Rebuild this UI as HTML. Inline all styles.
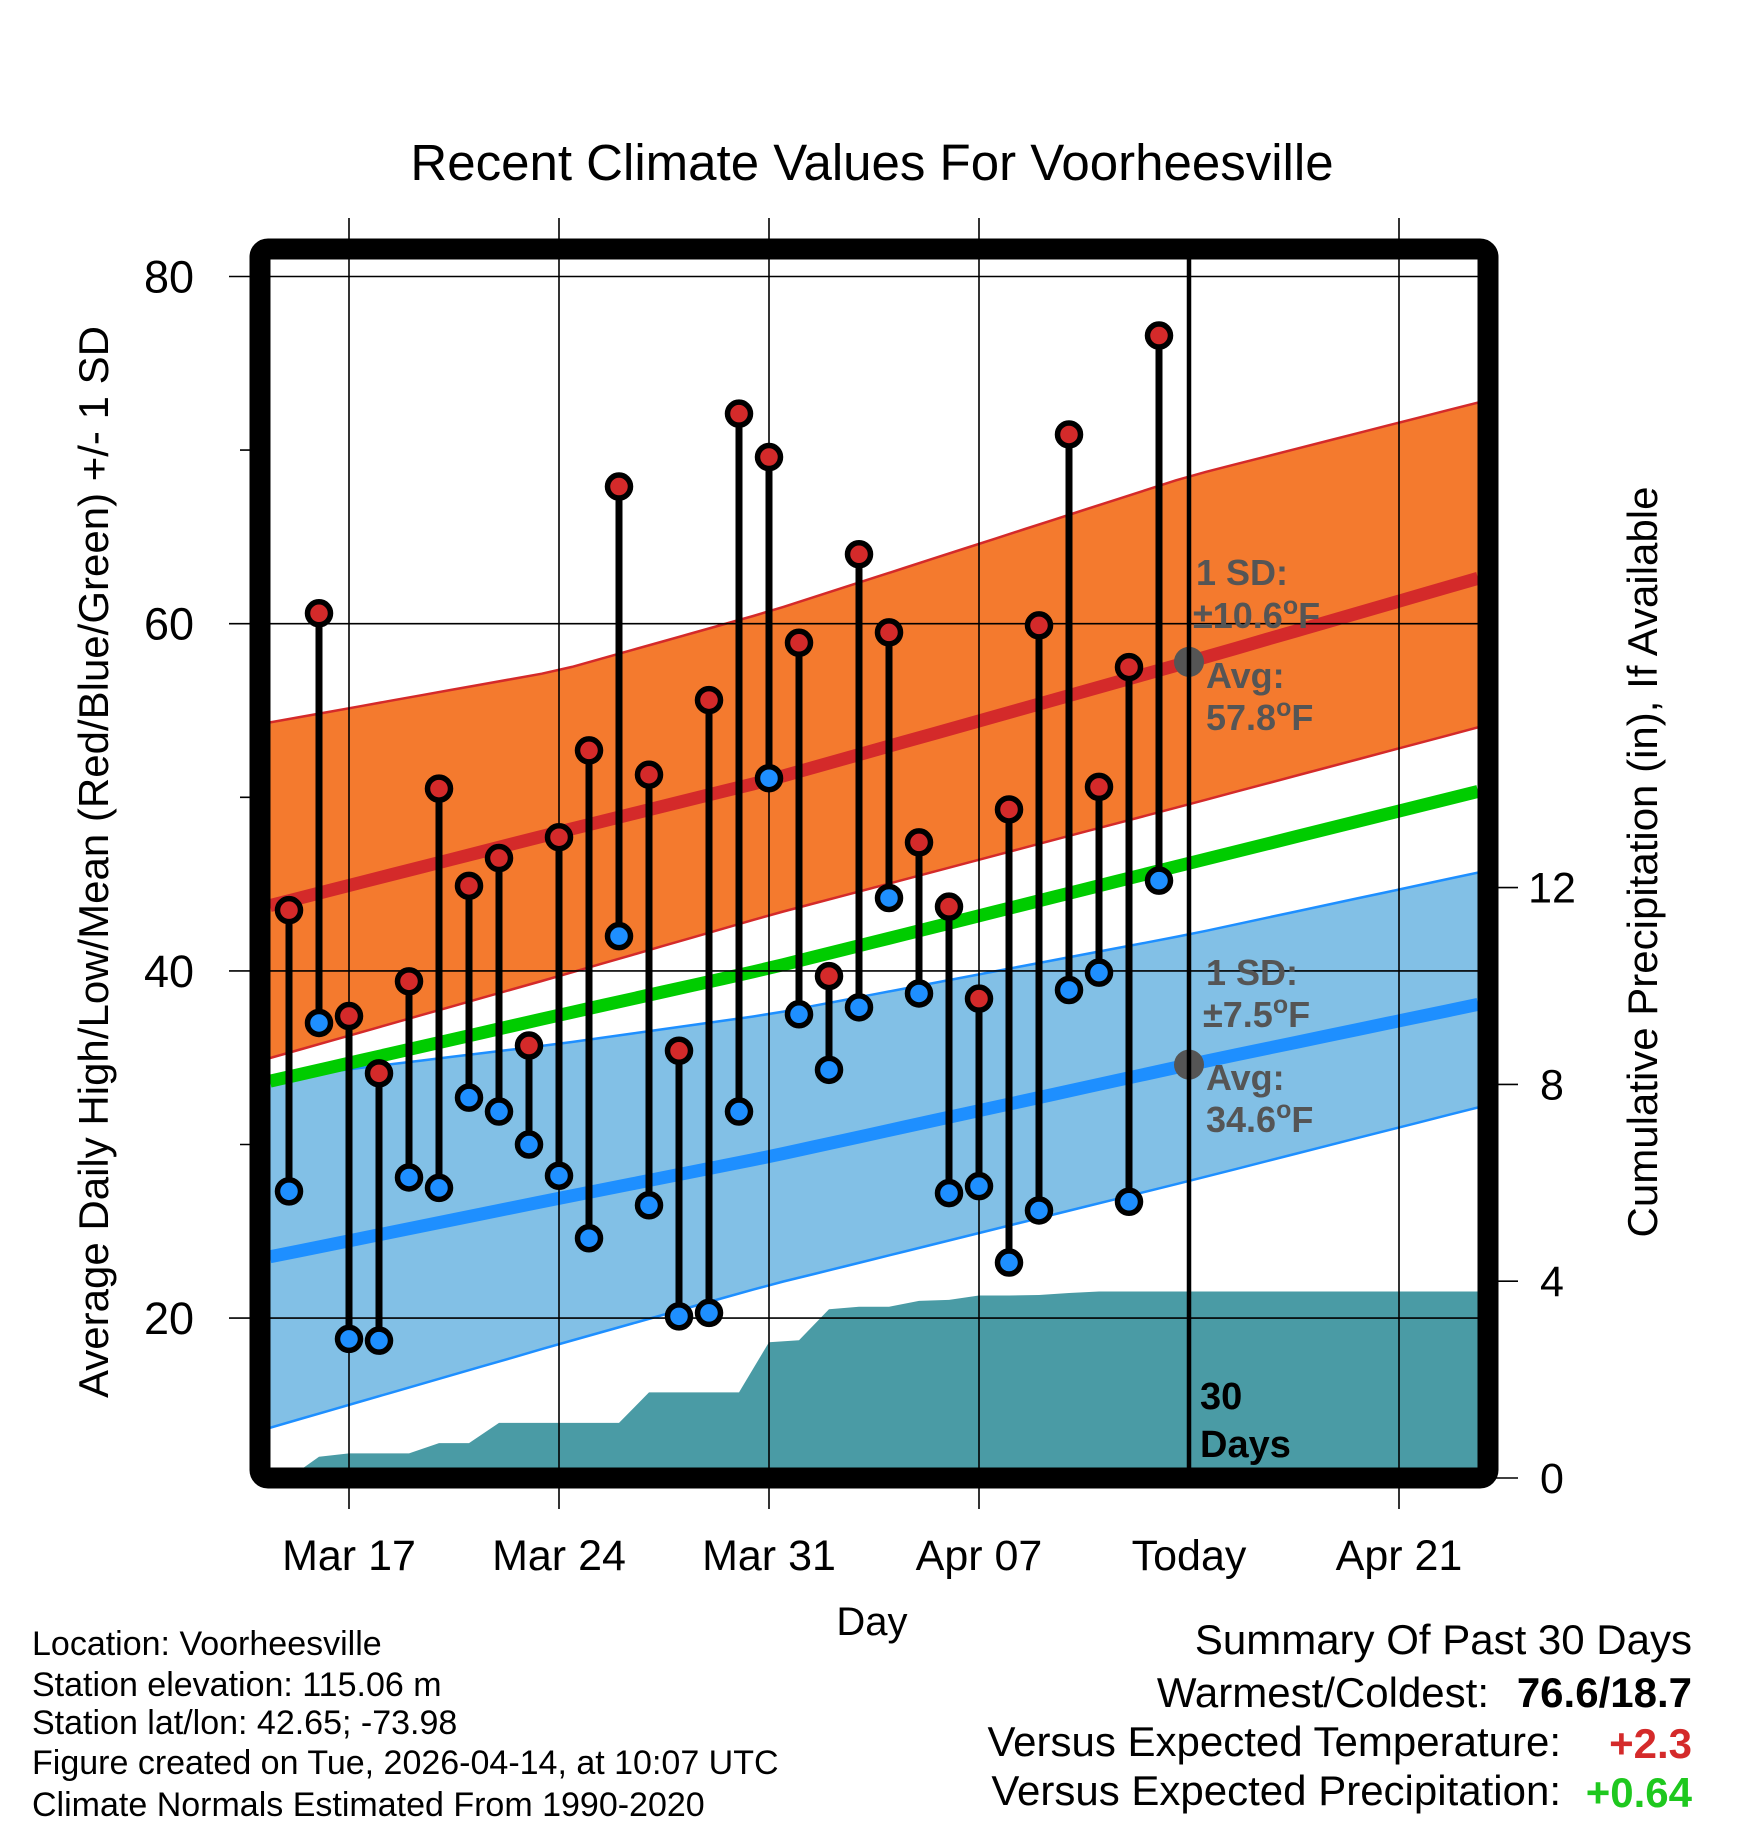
<!DOCTYPE html>
<html><head><meta charset="utf-8">
<style>
html,body{margin:0;padding:0;background:#fff;}
svg{display:block;font-family:"Liberation Sans",Arial,sans-serif;}
</style></head>
<body>
<svg id="chart" width="1748" height="1828" viewBox="0 0 1748 1828" xmlns="http://www.w3.org/2000/svg">
<text x="872" y="180" font-size="51" text-anchor="middle">Recent Climate Values For Voorheesville</text>
<g id="plot"></g>
<text transform="translate(108,862) rotate(-90)" font-size="42" text-anchor="middle">Average Daily High/Low/Mean (Red/Blue/Green) +/- 1 SD</text>
<text transform="translate(1657,862) rotate(-90)" font-size="42" text-anchor="middle">Cumulative Precipitation (in), If Available</text>
<text x="872" y="1635" font-size="40" text-anchor="middle">Day</text>
<g font-size="34">
<text x="32" y="1655">Location: Voorheesville</text>
<text x="32" y="1696">Station elevation: 115.06 m</text>
<text x="32" y="1734">Station lat/lon: 42.65; -73.98</text>
<text x="32" y="1774">Figure created on Tue, 2026-04-14, at 10:07 UTC</text>
<text x="32" y="1816">Climate Normals Estimated From 1990-2020</text>
</g>
<g font-size="42">
<text x="1692" y="1654" text-anchor="end">Summary Of Past 30 Days</text>
<text x="1489" y="1707" text-anchor="end">Warmest/Coldest:</text>
<text x="1692" y="1707" text-anchor="end" font-weight="bold">76.6/18.7</text>
<text x="1561" y="1756" text-anchor="end">Versus Expected Temperature:</text>
<text x="1692" y="1758" text-anchor="end" font-weight="bold" fill="#d42a2a">+2.3</text>
<text x="1561" y="1805" text-anchor="end">Versus Expected Precipitation:</text>
<text x="1692" y="1807" text-anchor="end" font-weight="bold" fill="#1ec81e">+0.64</text>
</g>
</svg>
<script>
// day index: 0 = Mar 17
const days = [-2,-1,0,1,2,3,4,5,6,7,8,9,10,11,12,13,14,15,16,17,18,19,20,21,22,23,24,25,26,27];
const highs = [43.5,60.6,37.4,34.1,39.4,50.5,44.9,46.5,35.7,47.7,52.7,67.9,51.3,35.4,55.6,72.1,69.6,58.9,39.7,64.0,59.5,47.4,43.7,38.4,49.3,59.9,70.9,50.6,57.5,76.6];
const lows = [27.3,37.0,18.8,18.7,28.1,27.5,32.7,31.9,30.0,28.2,24.6,42.0,26.5,20.1,20.3,31.9,51.1,37.5,34.3,37.9,44.2,38.7,27.2,27.6,23.2,26.2,38.9,39.9,26.7,45.2];
const precip = [0,0.43,0.5,0.5,0.5,0.71,0.71,1.12,1.12,1.12,1.12,1.12,1.74,1.74,1.74,1.74,2.76,2.8,3.43,3.48,3.48,3.6,3.62,3.71,3.71,3.72,3.76,3.79,3.79,3.79];
const normDays = [-3,7,14,28,38];
const avgHigh = [43.6,48.0,51.0,57.8,62.8];
const hiUpper = [54.2,57.3,60.7,68.5,72.9];
const hiLower = [34.8,39.7,43.2,49.6,54.2];
const avgLow = [23.4,26.9,29.3,34.6,38.2];
const loUpper = [33.7,35.8,37.5,42.1,45.8];
const loLower = [13.5,18.5,21.9,27.9,32.3];
const xTickDays = [0,7,14,21,35];
const xTickLabels = ["Mar 17","Mar 24","Mar 31","Apr 07","Apr 21"];
const todayDay = 28;
const yTicks = [20,40,60,80];
const yMinor = [30,50,70];
const pTicks = [0,4,8,12];

const NS="http://www.w3.org/2000/svg";
const L=270,R=1478,T=259,B=1468;
const X=d=>349+d*30;
const Y=v=>276.5+(80-v)*17.36;
const P=v=>1478-v*49.2;
const g=document.getElementById('plot');
function mk(tag,at,parent){const e=document.createElementNS(NS,tag);for(const k in at)e.setAttribute(k,at[k]);(parent||g).appendChild(e);return e;}
function interp(arr,d){for(let i=0;i<normDays.length-1;i++){if(d<=normDays[i+1]||i==normDays.length-2){const t=(d-normDays[i])/(normDays[i+1]-normDays[i]);return arr[i]+t*(arr[i+1]-arr[i]);}}}
const dL=(L-349)/30,dR=(R-349)/30;
function curve(arr){const pts=[];const n=40;for(let i=0;i<=n;i++){const d=dL+(dR-dL)*i/n;pts.push([X(d),Y(interp(arr,d))]);}return pts;}
function ps(p){return p.map(q=>q[0].toFixed(1)+','+q[1].toFixed(1)).join(' ');}

const clip=mk('clipPath',{id:'pc'});mk('rect',{x:L,y:T,width:R-L,height:B-T},clip);
const inner=mk('g',{'clip-path':'url(#pc)'});

let e;
e=mk('polygon',{points:ps(curve(hiUpper).concat(curve(hiLower).reverse())),fill:'#f47a2e'},inner);

e=mk('polygon',{points:ps(curve(loUpper).concat(curve(loLower).reverse())),fill:'#82c0e6'},inner);

[[hiUpper,'#d42a2a'],[hiLower,'#d42a2a'],[loUpper,'#1e8fff'],[loLower,'#1e8fff']].forEach(a=>{
 e=mk('polyline',{points:ps(curve(a[0])),fill:'none',stroke:a[1],'stroke-width':2.5},inner);
 
});
{const pts=[[L,P(0)]];pts.push([L,P(precip[0])]);days.forEach((d,i)=>pts.push([X(d),P(precip[i])]));pts.push([R,P(precip[precip.length-1])]);pts.push([R,P(0)]);
 e=mk('polygon',{points:ps(pts),fill:'#4a9ba5'},inner);
 }
yTicks.forEach(v=>{e=mk('line',{x1:229,x2:R,y1:Y(v),y2:Y(v),stroke:'#000','stroke-width':1.6});
 
 e=mk('text',{x:194,y:Y(v)+16,'font-size':45,'text-anchor':'end'});e.textContent=v;
 });
yMinor.forEach(v=>{e=mk('line',{x1:240,x2:L,y1:Y(v),y2:Y(v),stroke:'#000','stroke-width':1.6});
 });
xTickDays.forEach((d,i)=>{e=mk('line',{x1:X(d),x2:X(d),y1:218,y2:1509,stroke:'#000','stroke-width':1.6});
 
 e=mk('text',{x:X(d),y:1570,'font-size':43,'text-anchor':'middle'});e.textContent=xTickLabels[i];
 });
e=mk('text',{x:X(todayDay),y:1570,'font-size':43,'text-anchor':'middle'});e.textContent='Today';

pTicks.forEach(v=>{e=mk('line',{x1:1488,x2:1518,y1:P(v),y2:P(v),stroke:'#000','stroke-width':1.6});
 
 e=mk('text',{x:1552,y:P(v)+15,'font-size':43,'text-anchor':'middle'});e.textContent=v;
 });
e=mk('polyline',{points:ps(curve(avgHigh)),fill:'none',stroke:'#d42a2a','stroke-width':13},inner);

const meanArr=avgHigh.map((h,i)=>(h+avgLow[i])/2);
e=mk('polyline',{points:ps(curve(meanArr)),fill:'none',stroke:'#00cc00','stroke-width':13},inner);

e=mk('polyline',{points:ps(curve(avgLow)),fill:'none',stroke:'#1e8fff','stroke-width':13},inner);

function ann(x,y,t,name,sup){const el=mk('text',{x:x,y:y,'font-size':36,'font-weight':'bold',fill:'#555'});
 if(sup){el.appendChild(document.createTextNode(t));const s=mk('tspan',{'font-size':25,dy:-14},el);s.textContent='o';const f=mk('tspan',{dy:14},el);f.textContent='F';}else el.textContent=t;
 }
ann(1196,585,'1 SD:','high-sd-label');ann(1193,628,'\u00b110.6','high-sd-value',1);
ann(1206,688,'Avg:','high-avg-label');ann(1206,730,'57.8','high-avg-value',1);
ann(1206,985,'1 SD:','low-sd-label');ann(1203,1027,'\u00b17.5','low-sd-value',1);
ann(1206,1090,'Avg:','low-avg-label');ann(1206,1132,'34.6','low-avg-value',1);
e=mk('circle',{cx:X(todayDay),cy:Y(interp(avgHigh,todayDay)),r:15,fill:'#555'});

e=mk('circle',{cx:X(todayDay),cy:Y(interp(avgLow,todayDay)),r:15,fill:'#555'});

e=mk('line',{x1:X(todayDay),x2:X(todayDay),y1:T-10,y2:B,stroke:'#000','stroke-width':4.5});

e=mk('text',{x:1200,y:1409,'font-size':38,'font-weight':'bold'});e.textContent='30';

e=mk('text',{x:1200,y:1457,'font-size':38,'font-weight':'bold'});e.textContent='Days';

days.forEach((d,i)=>{const x=X(d);
 e=mk('line',{x1:x,x2:x,y1:Y(highs[i]),y2:Y(lows[i]),stroke:'#000','stroke-width':7});
 
 e=mk('circle',{cx:x,cy:Y(highs[i]),r:11.5,fill:'#d42a2a',stroke:'#000','stroke-width':5.5});
 
 e=mk('circle',{cx:x,cy:Y(lows[i]),r:11.5,fill:'#1e8fff',stroke:'#000','stroke-width':5.5});
 
});
e=mk('rect',{x:260,y:249,width:1228,height:1229,rx:8,fill:'none',stroke:'#000','stroke-width':21});

</script>
</body></html>
